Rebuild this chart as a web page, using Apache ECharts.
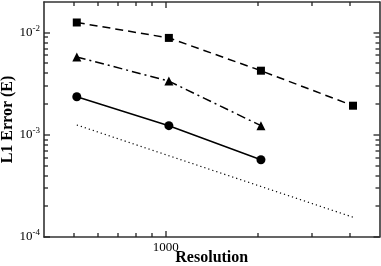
<!DOCTYPE html>
<html><head><meta charset="utf-8">
<script src="https://cdn.jsdelivr.net/npm/echarts@6/dist/echarts.min.js"></script>
<style>html,body{margin:0;padding:0;background:#fff}#c{width:381px;height:266px}</style>
</head><body><div id="c"></div>
<script>
var resolution = [512, 1024, 2048, 4096];
var squares = [0.0126, 0.0089, 0.00425, 0.00193];
var triangles = [0.0058, 0.00336, 0.00123];
var circles = [0.00236, 0.00123, 0.00057];
var refRes = [512, 4096];
var refLine = [0.00125, 0.00015625];
var xMajor = [1000];
var xMinor = [500, 600, 700, 800, 900, 2000, 3000, 4000];
var yMajor = [0.0001, 0.001, 0.01];
var yMinor = [0.0002,0.0003,0.0004,0.0005,0.0006,0.0007,0.0008,0.0009,
              0.002,0.003,0.004,0.005,0.006,0.007,0.008,0.009];
var xLabels = [1000];
var yLabels = [0.0001, 0.001, 0.01];
var xRange = [400, 5000];
var yRange = [0.0001, 0.02];

var FONT = 'Liberation Serif';
var AX = '#333333';
var TK = '#222222';
var L = Math.log10;
function lg(a){ return a.map(function(v){ return L(v); }); }
function pairs(xs, ys){ return ys.map(function(v,i){ return [L(xs[i]), L(v)]; }); }

function ax(pos, range, line, labels, fmt){
  return {
    type:'value', min:L(range[0]), max:L(range[1]), position:pos,
    axisLine:{show:line, onZero:false, lineStyle:{color:AX, width:1.6}},
    axisTick:{show:false},
    axisLabel:labels ? {show:true, customValues:lg(labels), margin:4, color:'#000', fontFamily:FONT, fontSize:13, formatter:fmt} : {show:false},
    splitLine:{show:false}, minorTick:{show:false}, nameMoveOverlap:false
  };
}
var xFmt = function(v){ return String(Math.round(Math.pow(10, v))); };
var yFmt = function(v){ return '{b|10}{s|' + Math.round(v) + '}'; };

var xs = [ax('bottom', xRange, true, xLabels, xFmt), ax('top', xRange, true)];
xs[0].name = 'Resolution';
xs[0].nameLocation = 'middle';
xs[0].nameGap = 13;
xs[0].nameTextStyle = {fontFamily:FONT, fontWeight:'bold', fontSize:16, color:'#000'};
var ys = [ax('left', yRange, true, yLabels, yFmt), ax('right', yRange, true)];
ys[0].axisLabel.rich = {b:{fontSize:13, fontFamily:FONT, color:'#000'}, s:{fontSize:9, fontFamily:FONT, color:'#000', verticalAlign:'top', padding:[0,0,8,0]}};
ys[0].name = 'L1 Error (E)';
ys[0].nameLocation = 'middle';
ys[0].nameGap = 28;
ys[0].nameTextStyle = {fontFamily:FONT, fontWeight:'bold', fontSize:16, color:'#000'};

// tick marks on all four sides, placed through the axes' own coordinate mapping
function tickSeries(vals, isX, len){
  var data = vals.map(function(v){ return isX ? [L(v), L(yRange[0])] : [L(xRange[0]), L(v)]; });
  return {
    type:'custom', silent:true, clip:false, z:5, data:data,
    renderItem:function(params, api){
      var st = {stroke:TK, lineWidth:1.3};
      if (isX) {
        var x = api.value(0);
        var b = api.coord([x, L(yRange[0])]), t = api.coord([x, L(yRange[1])]);
        var px = Math.round(b[0]);
        return {type:'group', children:[
          {type:'line', shape:{x1:px, y1:b[1], x2:px, y2:b[1]-len}, style:st},
          {type:'line', shape:{x1:px, y1:t[1], x2:px, y2:t[1]+len}, style:st}
        ]};
      } else {
        var y = api.value(1);
        var l = api.coord([L(xRange[0]), y]), r = api.coord([L(xRange[1]), y]);
        var py = Math.round(l[1]);
        return {type:'group', children:[
          {type:'line', shape:{x1:l[0], y1:py, x2:l[0]+len, y2:py}, style:st},
          {type:'line', shape:{x1:r[0], y1:py, x2:r[0]-len, y2:py}, style:st}
        ]};
      }
    }
  };
}

var chart = echarts.init(document.getElementById('c'), null, {renderer:'canvas'});
chart.setOption({
  animation:false,
  grid:{left:44, right:1.5, top:2, bottom:29, containLabel:false, outerBoundsMode:'none'},
  xAxis: xs, yAxis: ys,
  series:[
    tickSeries(xMajor, true, 6), tickSeries(xMinor, true, 4),
    tickSeries(yMajor, false, 6), tickSeries(yMinor, false, 4),
    {type:'line', data:pairs(resolution, squares), symbol:'rect', symbolSize:8,
     lineStyle:{color:'#000', width:1.5, type:[8,5]}, itemStyle:{color:'#000'}},
    {type:'line', data:pairs(resolution, triangles), symbol:'triangle', symbolSize:9,
     lineStyle:{color:'#000', width:1.5, type:[9,4,2,4]}, itemStyle:{color:'#000'}},
    {type:'line', data:pairs(resolution, circles), symbol:'circle', symbolSize:9,
     lineStyle:{color:'#000', width:1.5}, itemStyle:{color:'#000'}},
    {type:'line', data:pairs(refRes, refLine), symbol:'none',
     lineStyle:{color:'#000', width:1.2, type:[1.2,3]}}
  ]
});
</script></body></html>
